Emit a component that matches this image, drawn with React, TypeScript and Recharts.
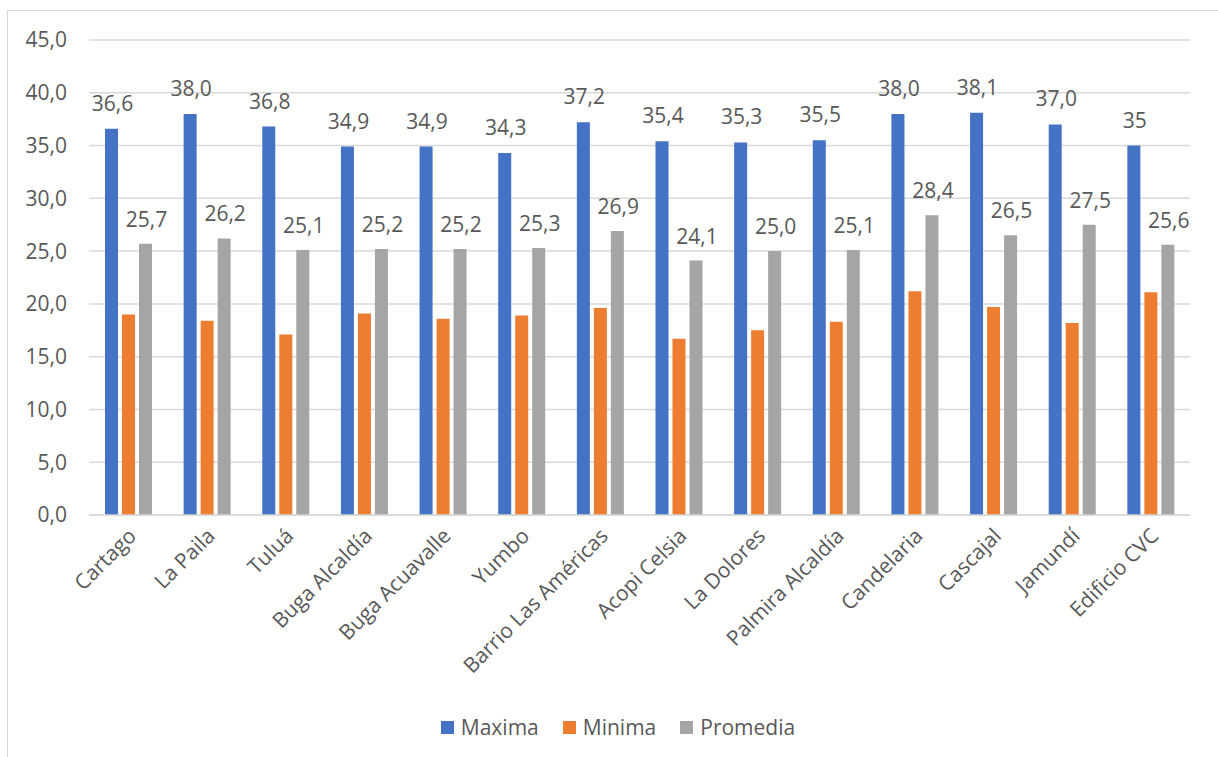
import React from 'react';
import { BarChart, Bar, XAxis, YAxis, CartesianGrid, Legend, LabelList } from 'recharts';

const stations = [
  'Cartago', 'La Paila', 'Tuluá', 'Buga Alcaldía', 'Buga Acuavalle', 'Yumbo', 'Barrio Las Américas',
  'Acopi Celsia', 'La Dolores', 'Palmira Alcaldía', 'Candelaria', 'Cascajal', 'Jamundí', 'Edificio CVC',
];
const maxima = [36.6, 38.0, 36.8, 34.9, 34.9, 34.3, 37.2, 35.4, 35.3, 35.5, 38.0, 38.1, 37.0, 35];
const maximaText = ['36,6', '38,0', '36,8', '34,9', '34,9', '34,3', '37,2', '35,4', '35,3', '35,5', '38,0', '38,1', '37,0', '35'];
const minima = [19.0, 18.4, 17.1, 19.1, 18.6, 18.9, 19.6, 16.7, 17.5, 18.3, 21.2, 19.7, 18.2, 21.1];
const promedia = [25.7, 26.2, 25.1, 25.2, 25.2, 25.3, 26.9, 24.1, 25.0, 25.1, 28.4, 26.5, 27.5, 25.6];
const yTicks = [0, 5, 10, 15, 20, 25, 30, 35, 40, 45];

const COLORS = { max: '#4472C4', min: '#ED7D31', avg: '#A5A5A5' };
const FONT = '"Open Sans", sans-serif';
const TEXT = '#595959';
const FS = 21;

const data = stations.map((name, i) => ({
  name,
  Maxima: maxima[i],
  Minima: minima[i],
  Promedia: promedia[i],
}));

const fmt = (v: number) => v.toFixed(1).replace('.', ',');

// rotated category labels, end of text sits just right of the tick
const XTick = (props: any) => {
  const { x, y, payload } = props;
  const ax = x + 4;
  const ay = y + 17;
  return (
    <text
      x={ax}
      y={ay}
      dy="0.35em"
      textAnchor="end"
      transform={`rotate(-45, ${ax}, ${ay})`}
      fill={TEXT}
      fontSize={FS}
      fontFamily={FONT}
    >
      {payload.value}
    </text>
  );
};

const makeLabel = (gap: number, getText: (i: number) => string) => (props: any) => {
  const { x, y, width, index } = props;
  return (
    <text
      x={x + width / 2 + 1}
      y={y - gap}
      textAnchor="middle"
      fill={TEXT}
      fontSize={FS}
      fontFamily={FONT}
    >
      {getText(index)}
    </text>
  );
};

const LegendContent = () => {
  const items = [
    { label: 'Maxima', color: COLORS.max },
    { label: 'Minima', color: COLORS.min },
    { label: 'Promedia', color: COLORS.avg },
  ];
  return (
    <div style={{ display: 'flex', justifyContent: 'center', alignItems: 'center', gap: 24, paddingLeft: 46 }}>
      {items.map((it) => (
        <div key={it.label} style={{ display: 'flex', alignItems: 'center', gap: 7 }}>
          <span style={{ width: 13, height: 13, background: it.color, display: 'inline-block' }} />
          <span style={{ fontFamily: FONT, fontSize: FS, color: TEXT }}>{it.label}</span>
        </div>
      ))}
    </div>
  );
};

export default function App() {
  return (
    <div style={{ position: 'absolute', left: 0, top: 0, width: 1218, height: 757, background: '#fff', overflow: 'hidden' }}>
      <div
        style={{
          position: 'absolute',
          left: 7,
          top: 10,
          width: 1260,
          height: 780,
          border: '1px solid #d9d9d9',
          boxSizing: 'border-box',
        }}
      />
      <div style={{ position: 'absolute', left: 0, top: 0 }}>
        <BarChart
          width={1218}
          height={757}
          data={data}
          margin={{ top: 40, right: 28, bottom: 20, left: 0 }}
          barCategoryGap="20%"
          barGap={4}
        >
          <CartesianGrid vertical={false} stroke="#d9d9d9" strokeWidth={1.5} />
          <XAxis
            dataKey="name"
            interval={0}
            tickLine={false}
            tickSize={0}
            tickMargin={0}
            axisLine={{ stroke: '#d9d9d9', strokeWidth: 1.5 }}
            height={198}
            tick={<XTick />}
          />
          <YAxis
            domain={[0, 45]}
            ticks={yTicks}
            width={89}
            tickLine={false}
            tickSize={0}
            tickMargin={22}
            axisLine={false}
            tickFormatter={fmt}
            tick={{ fill: TEXT, fontSize: FS, fontFamily: FONT }}
          />
          <Legend verticalAlign="bottom" height={24} content={<LegendContent />} />
          <Bar dataKey="Maxima" fill={COLORS.max} barSize={13} isAnimationActive={false}>
            <LabelList dataKey="Maxima" content={makeLabel(18, (i) => maximaText[i])} />
          </Bar>
          <Bar dataKey="Minima" fill={COLORS.min} barSize={13} isAnimationActive={false} />
          <Bar dataKey="Promedia" fill={COLORS.avg} barSize={13} isAnimationActive={false}>
            <LabelList dataKey="Promedia" content={makeLabel(17, (i) => fmt(promedia[i]))} />
          </Bar>
        </BarChart>
      </div>
    </div>
  );
}
